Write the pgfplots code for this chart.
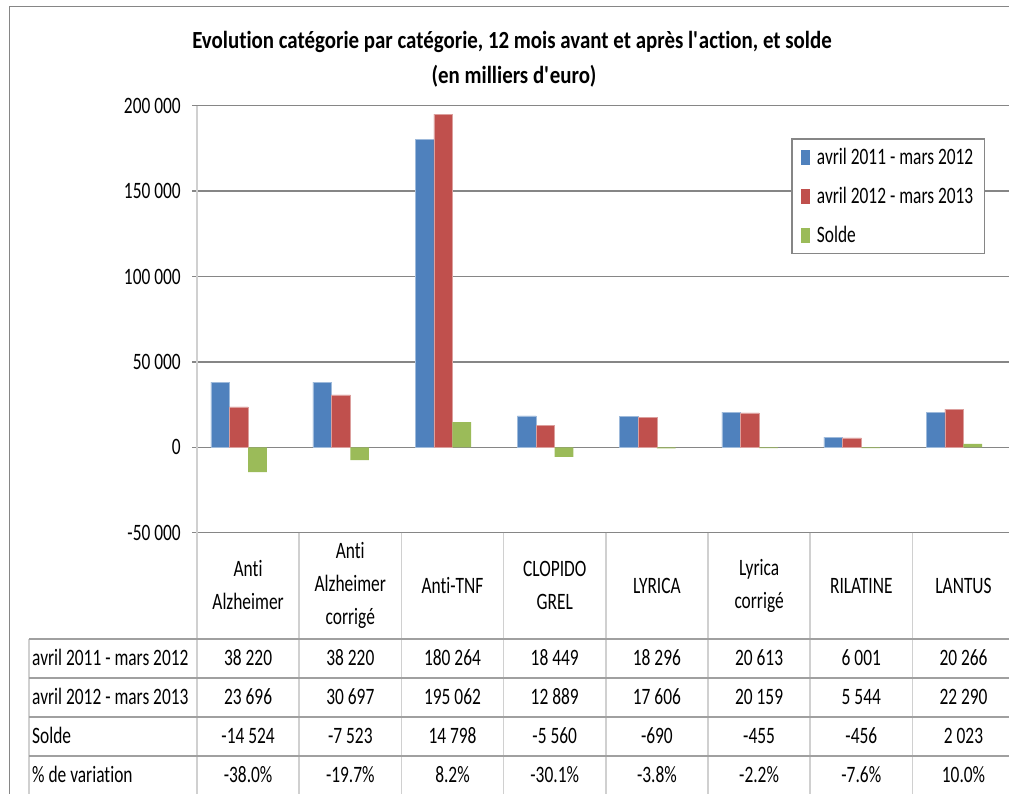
\documentclass[border=0pt]{standalone}
\usepackage{fontspec}
\setmainfont{Carlito}[FakeStretch=0.74, Ligatures={NoCommon}]
\newfontfamily\titlefont{Carlito}[FakeStretch=0.85, Ligatures={NoCommon}]
\usepackage{pgfplots}
\pgfplotsset{compat=1.18}
\definecolor{cblue}{HTML}{4F81BD}
\definecolor{cred}{HTML}{C0504D}
\definecolor{cgreen}{HTML}{9BBB59}
\definecolor{gridc}{HTML}{868686}
\definecolor{lightc}{HTML}{D0D0D0}
\definecolor{rowc}{HTML}{A0A0A0}
\newcommand\tf{\fontsize{23.5}{33}\selectfont}
\begin{document}
\begin{tikzpicture}
\begin{axis}[
  at={(197pt,261.3pt)}, anchor=south west,
  width=817.6pt, height=427pt, scale only axis,
  xmin=-0.5, xmax=7.5, ymin=-50000, ymax=200000,
  axis line style={draw=none},
  xtick=\empty,
  scaled y ticks=false,
  ytick={-50000,0,50000,100000,150000,200000},
  yticklabels={-50 000,0,50 000,100 000,150 000,200 000},
  ytick pos=left, tick align=outside, major tick length=5pt,
  ytick style={draw=gridc, line width=1.3pt},
  ymajorgrids, major grid style={draw=gridc, line width=1.3pt},
  yticklabel style={font=\tf, inner sep=0pt, xshift=-11pt},
  ybar, bar width=0.1827,
  legend style={at={(0.7277,0.922)}, anchor=north west, draw=gridc, line width=1.3pt,
    fill=white, font=\tf, inner xsep=9pt, inner ysep=7.5pt, outer sep=0pt, row sep=17pt,
    column sep=5pt,
    nodes={inner xsep=2pt, inner ysep=2pt}},
  legend cell align=left,
  legend image code/.code={\fill[#1,draw=none] (0pt,-7.5pt) rectangle (9pt,7.5pt);},
]
\addplot[fill=cblue, draw=cblue!55!white, line width=0.5pt, bar shift=-0.274]
  coordinates {(0,38220) (1,38220) (2,180264) (3,18449) (4,18296) (5,20613) (6,6001) (7,20266)};
\addlegendentry{avril 2011 - mars 2012}
\addplot[fill=cred, draw=cred!55!white, line width=0.5pt, bar shift=-0.0913]
  coordinates {(0,23696) (1,30697) (2,195062) (3,12889) (4,17606) (5,20159) (6,5544) (7,22290)};
\addlegendentry{avril 2012 - mars 2013}
\addplot[fill=cgreen, draw=none, bar shift=0.0913]
  coordinates {(0,-14524) (1,-7523) (2,14798) (3,-5560) (4,-690) (5,-455) (6,-456) (7,2023)};
\addlegendentry{Solde}
\end{axis}
% title
\node[font=\titlefont\bfseries\fontsize{24.6}{35}\selectfont, anchor=base] at (512pt,745.7pt)
  {Evolution catégorie par catégorie, 12 mois avant et après l\textquotesingle action, et solde};
\node[font=\titlefont\bfseries\fontsize{24.6}{35}\selectfont, anchor=base] at (514pt,710.5pt)
  {(en milliers d\textquotesingle euro)};
% table vertical lines
\draw[lightc, line width=1.5pt] (197pt,688.3pt) -- (197pt,-5pt);
\foreach \k in {1,...,8}{
  \pgfmathsetmacro\vx{197+102.2*\k}
  \draw[lightc, line width=1.5pt] (\vx pt,261.3pt) -- (\vx pt,-5pt);
}
\draw[lightc, line width=1.5pt] (29pt,155pt) -- (29pt,-5pt);
% table horizontal lines
\foreach \yy in {155,116,77,38}{
  \draw[rowc, line width=1.3pt] (29pt,\yy pt) -- (1030pt,\yy pt);
}
% category labels
\foreach \lab [count=\i from 0] in {{Anti\\Alzheimer},{Anti\\Alzheimer\\corrigé},{Anti-TNF},{CLOPIDO\\GREL},{LYRICA},{Lyrica\\corrigé},{RILATINE},{LANTUS}}{
  \pgfmathsetmacro\cx{197+102.2*(\i+0.5)}
  \node[font=\tf, align=center, inner sep=0pt] at (\cx pt,208.5pt) {\lab};
}
% row labels
\foreach \lab/\yy in {avril 2011 - mars 2012/135.5, avril 2012 - mars 2013/96.5, Solde/57.5, \% de variation/18.5}{
  \node[font=\tf, anchor=west, text height=15pt, text depth=0pt, inner sep=0pt] at (32pt,\yy pt) {\lab};
}
% table values
\foreach \i/\a/\b/\c/\d in {0/38 220/23 696/-14 524/-38.0\%, 1/38 220/30 697/-7 523/-19.7\%, 2/180 264/195 062/14 798/8.2\%, 3/18 449/12 889/-5 560/-30.1\%, 4/18 296/17 606/-690/-3.8\%, 5/20 613/20 159/-455/-2.2\%, 6/6 001/5 544/-456/-7.6\%, 7/20 266/22 290/2 023/10.0\%}{
  \pgfmathsetmacro\cx{197+102.2*(\i+0.5)}
  \node[font=\tf, text height=15pt, text depth=0pt, inner sep=0pt] at (\cx pt,135.5pt) {\a};
  \node[font=\tf, text height=15pt, text depth=0pt, inner sep=0pt] at (\cx pt,96.5pt) {\b};
  \node[font=\tf, text height=15pt, text depth=0pt, inner sep=0pt] at (\cx pt,57.5pt) {\c};
  \node[font=\tf, text height=15pt, text depth=0pt, inner sep=0pt] at (\cx pt,18.5pt) {\d};
}
% chart border
\draw[gridc, line width=1.3pt] (9.5pt,-10pt) -- (9.5pt,787.5pt) -- (1030pt,787.5pt);
\pgfresetboundingbox
\path[use as bounding box] (0pt,0pt) rectangle (1009pt,794pt);
\end{tikzpicture}
\end{document}
